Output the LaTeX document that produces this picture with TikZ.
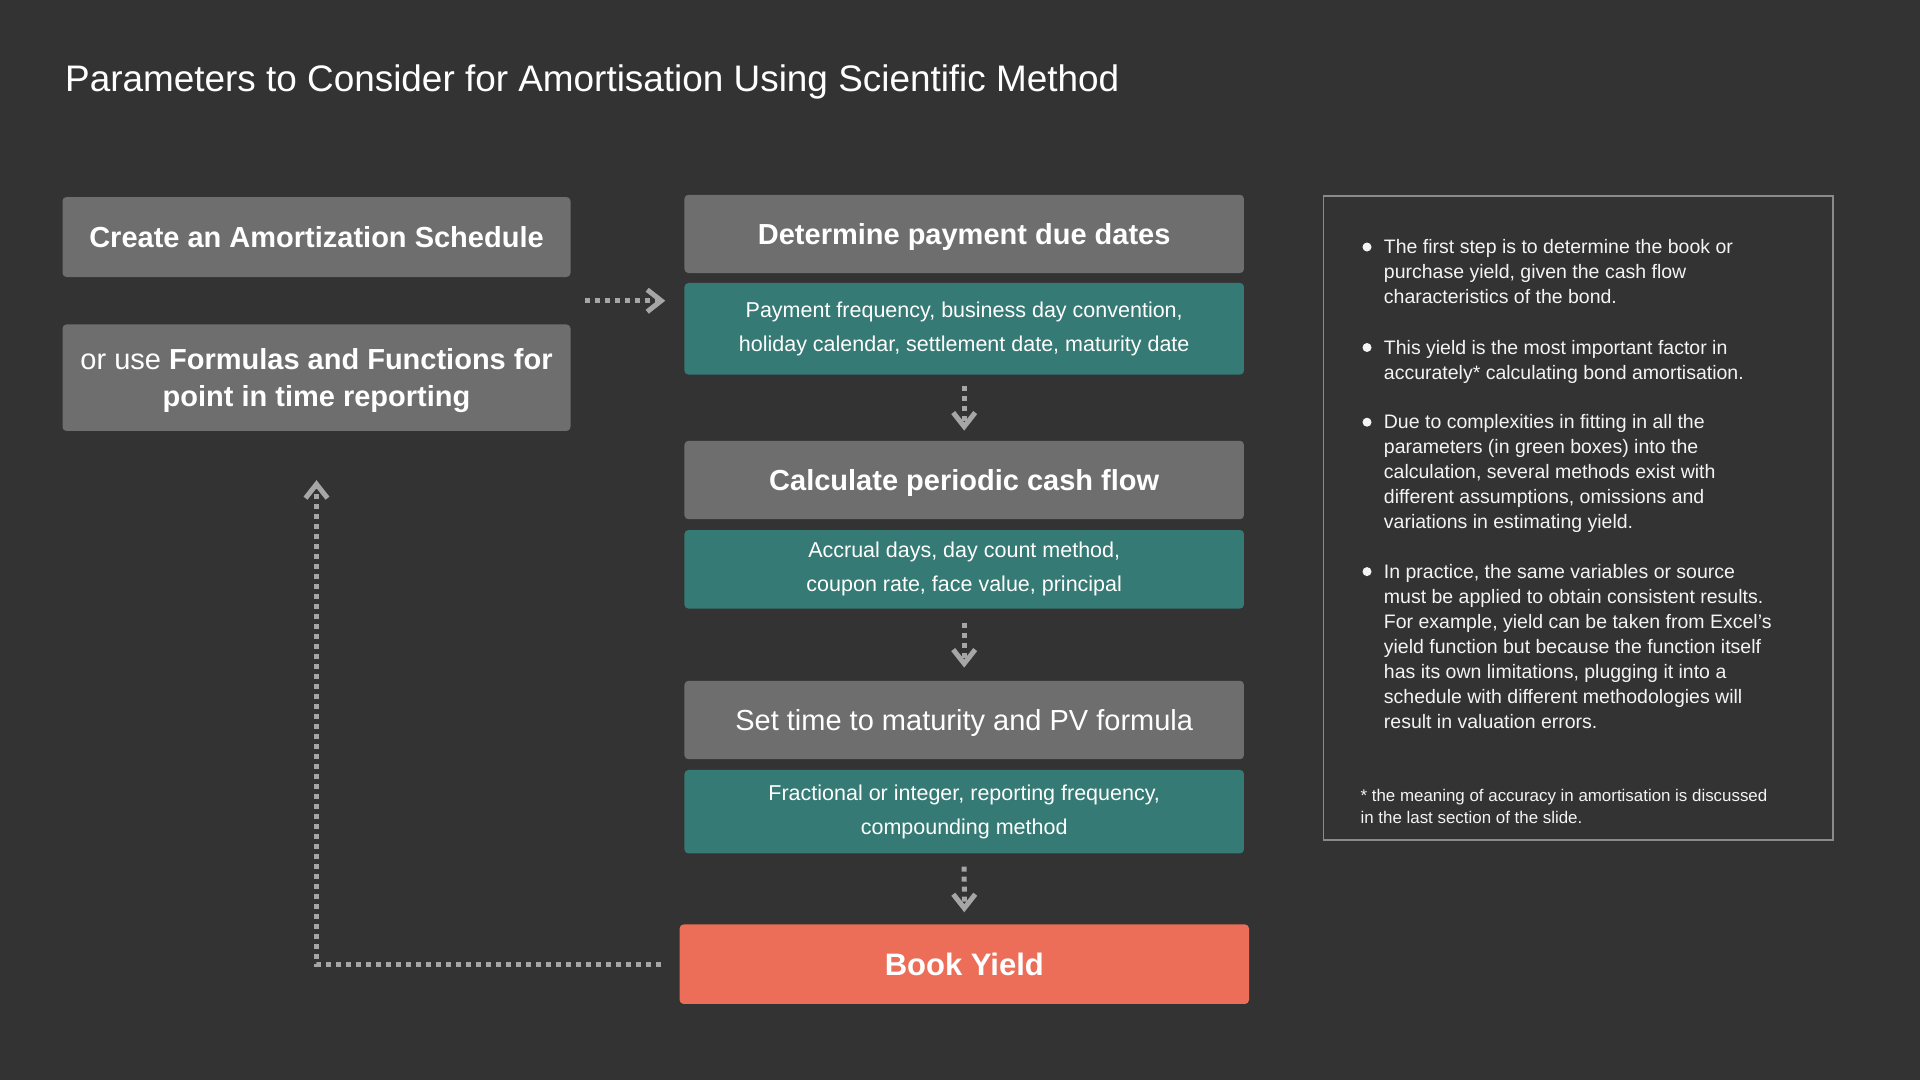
\documentclass[tikz,border=0pt]{standalone}
\usepackage{fontspec}
\setmainfont{Liberation Sans}
\usetikzlibrary{arrows.meta,calc}
\definecolor{bgc}{HTML}{333333}
\definecolor{grayc}{HTML}{6E6E6E}
\definecolor{tealc}{HTML}{357A74}
\definecolor{coralc}{HTML}{EC6E59}
\definecolor{arrc}{HTML}{A6A6A6}
\definecolor{borderc}{HTML}{8A8A8A}
\definecolor{txtc}{HTML}{F4F4F4}
\tikzset{
  graybox/.style={fill=grayc, rounded corners=4pt, inner sep=0pt, text=white, align=center, font=\fontsize{29}{37}\selectfont},
  boldone/.style={font=\bfseries\fontsize{29}{36}\selectfont, text height=20.8pt, text depth=0pt},
  plainone/.style={text height=20.8pt, text depth=0pt},
  tealbox/.style={fill=tealc, rounded corners=4pt, inner sep=0pt, text=white, align=center, font=\fontsize{21.5}{34}\selectfont},
  colw/.style={minimum width=559.5pt},
  flowarrow/.style={draw=arrc, line width=5pt, dash pattern=on 5pt off 5pt, -{Straight Barb[length=14pt,width=22pt,line width=5pt]}},
  bullettext/.style={anchor=north west, inner sep=0pt, align=left, text=txtc, font=\fontsize{19.5}{25}\selectfont},
  bulletdot/.style={circle, fill=txtc, minimum size=9pt, inner sep=0pt},
}
\begin{document}
\begin{tikzpicture}[x=1pt,y=-1pt]
\fill[bgc] (0,0) rectangle (1920,1080);
\useasboundingbox (0,0) rectangle (1920,1080);

% title
\node[anchor=base west, inner sep=0pt, text=white, font=\fontsize{36.9}{44}\selectfont] (title) at (65,91) {Parameters to Consider for Amortisation Using Scientific Method};

% left boxes
\node[graybox, boldone, minimum width=508pt, minimum height=80pt] (box1) at (316.5,237) {Create an Amortization Schedule};
\node[graybox, minimum width=508pt, minimum height=106.5pt] (box2) at (316.5,377.7) {\rule{0pt}{27pt}or use \textbf{Formulas and Functions for}\\\textbf{point in time reporting}};

% flow column
\node[graybox, colw, boldone, minimum height=78.3pt] (g1) at (964.2,233.9) {Determine payment due dates};
\node[tealbox, colw, minimum height=91.7pt] (t1) at (964.2,328.8) {Payment frequency, business day convention,\\holiday calendar, settlement date, maturity date};
\node[graybox, colw, boldone, minimum height=78.4pt] (g2) at (964.2,480) {Calculate periodic cash flow};
\node[tealbox, colw, minimum height=78.6pt] (t2) at (964.2,569.3) {Accrual days, day count method,\\coupon rate, face value, principal};
\node[graybox, colw, plainone, minimum height=78.4pt] (g3) at (964.2,720) {Set time to maturity and PV formula};
\node[tealbox, colw, minimum height=83.5pt] (t3) at (964.2,811.7) {Fractional or integer, reporting frequency,\\compounding method};
\node[fill=coralc, rounded corners=4pt, inner sep=0pt, text=white, minimum width=569.4pt, minimum height=79.5pt, font=\bfseries\fontsize{31}{36}\selectfont, text height=22.2pt, text depth=0pt] (book) at (964.3,964.2) {Book Yield};

% arrows
\coordinate (mid) at ($(box1.south east)!0.5!(box2.north east)$);
\draw[flowarrow, shorten <=14pt, shorten >=19pt] (mid) -- (mid -| t1.west);
\draw[flowarrow, shorten <=11pt, shorten >=10pt] (t1.south) -- (g2.north);
\draw[flowarrow, shorten <=14pt, shorten >=13pt] (t2.south) -- (g3.north);
\draw[flowarrow, shorten <=13pt, shorten >=12pt] (t3.south) -- (book.north);
\draw[flowarrow, shorten <=18pt, shorten >=49pt] (book.west) -| (box2.south);

% right text panel
\draw[borderc, line width=1.3pt] (1323.7,196) rectangle (1833,840);
\node[bulletdot] (d1) at (1367,247) {};
\node[bullettext] (p1) at (1383.7,235.5) {\rule{0pt}{18pt}The first step is to determine the book or\\purchase yield, given the cash flow\\characteristics of the bond.};
\node[bulletdot] (d2) at (1367,347.5) {};
\node[bullettext] (p2) at (1383.7,336) {\rule{0pt}{18pt}This yield is the most important factor in\\accurately* calculating bond amortisation.};
\node[bulletdot] (d3) at (1367,422.2) {};
\node[bullettext] (p3) at (1383.7,410.7) {\rule{0pt}{18pt}Due to complexities in fitting in all the\\parameters (in green boxes) into the\\calculation, several methods exist with\\different assumptions, omissions and\\variations in estimating yield.};
\node[bulletdot] (d4) at (1367,571.6) {};
\node[bullettext] (p4) at (1383.7,560.1) {\rule{0pt}{18pt}In practice, the same variables or source\\must be applied to obtain consistent results.\\For example, yield can be taken from Excel’s\\yield function but because the function itself\\has its own limitations, plugging it into a\\schedule with different methodologies will\\result in valuation errors.};
\node[bullettext, font=\fontsize{16.9}{22}\selectfont] (fn) at (1360.4,786) {\rule{0pt}{15pt}* the meaning of accuracy in amortisation is discussed\\in the last section of the slide.};
\end{tikzpicture}
\end{document}
